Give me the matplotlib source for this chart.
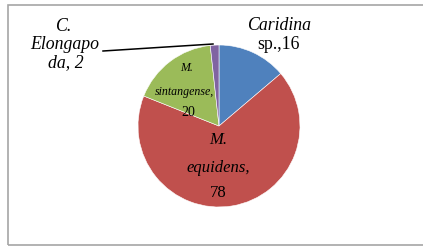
import matplotlib
matplotlib.use("Agg")
import matplotlib.pyplot as plt
from matplotlib.patches import Rectangle

species = ["Caridina sp.", "M. equidens", "M. sintangense", "C. Elongapoda"]
counts = [16, 78, 20, 2]
colors = ["#4F81BD", "#C0504D", "#9BBB59", "#8064A2"]

plt.rcParams["font.family"] = ["Liberation Serif", "DejaVu Serif"]

W, H = 423, 247
fig = plt.figure(figsize=(W / 100, H / 100), dpi=100)
ax = fig.add_axes([0, 0, 1, 1])

cx, cy, r = 219, 121, 81
ax.pie(counts, colors=colors, startangle=90, counterclock=False,
       center=(cx, cy), radius=r, frame=True,
       wedgeprops=dict(linewidth=0.4, edgecolor="white"))
ax.set_xlim(0, W)
ax.set_ylim(0, H)
ax.set_aspect("equal")
ax.axis("off")

# chart border (right edge runs off the image)
ax.add_patch(Rectangle((8, 2), W + 10, 240, fill=False, edgecolor="#a6a6a6",
                       linewidth=1.2, clip_on=False))

# Caridina sp., 16
ax.text(279, 221, "Caridina", fontsize=12.8, style="italic", ha="center", va="center")
ax.text(279, 202, f"sp.,{counts[0]}", fontsize=12.8, ha="center", va="center")

# C. Elongapoda, 2
ax.text(63, 220, "C.", fontsize=12.8, style="italic", ha="center", va="center")
ax.text(65, 202, "Elongapo", fontsize=12.8, style="italic", ha="center", va="center")
ax.text(66, 184, f"da, {counts[3]}", fontsize=12.8, style="italic", ha="center", va="center")
ax.plot([103, 213], [196, 203], color="black", linewidth=1.1)

# M. sintangense, 20
ax.text(187, 179, "M.", fontsize=8.6, style="italic", ha="center", va="center")
ax.text(184, 155, "sintangense,", fontsize=8.6, style="italic", ha="center", va="center")
ax.text(188, 135, f"{counts[2]}", fontsize=10, ha="center", va="center")

# M. equidens, 78
ax.text(218, 107, "M.", fontsize=12, style="italic", ha="center", va="center")
ax.text(218, 79, "equidens,", fontsize=12, style="italic", ha="center", va="center")
ax.text(218, 54, f"{counts[1]}", fontsize=12, ha="center", va="center")

fig.savefig("out.png", dpi=100)
